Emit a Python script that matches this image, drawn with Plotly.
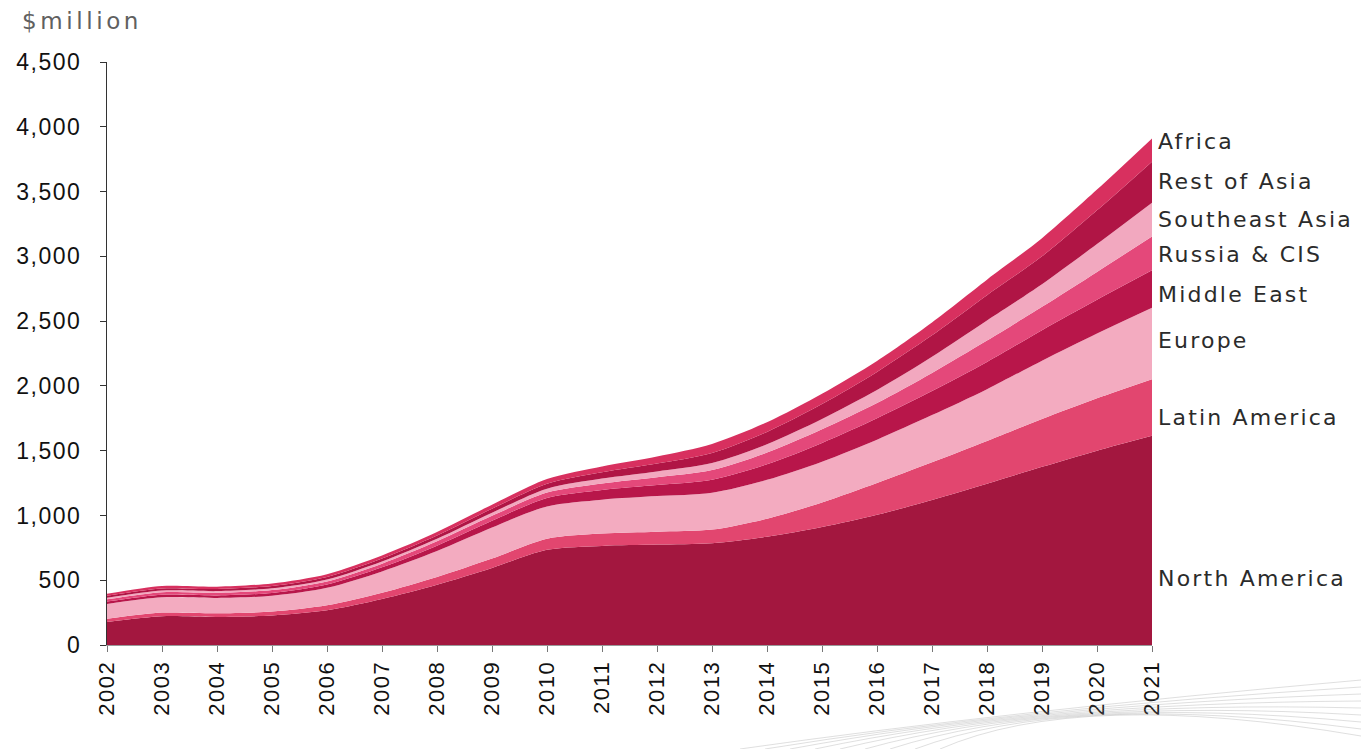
import plotly.graph_objects as go

years = list(range(2002, 2022))
series_names = ["North America", "Latin America", "Europe", "Middle East",
                "Russia & CIS", "Southeast Asia", "Rest of Asia", "Africa"]

north_america = [177, 222, 217, 228, 268, 355, 465, 595, 735, 765, 775, 786, 835, 910, 1005, 1120, 1245, 1375, 1500, 1615]
latin_america = [25, 28, 28, 30, 38, 48, 60, 72, 85, 95, 100, 105, 140, 190, 245, 290, 330, 370, 405, 437]
europe = [115, 118, 118, 122, 135, 165, 200, 240, 250, 262, 275, 285, 300, 315, 335, 365, 400, 450, 500, 552]
middle_east = [18, 20, 20, 22, 26, 32, 42, 52, 65, 75, 85, 100, 120, 145, 165, 185, 210, 235, 260, 288]
russia_cis = [18, 20, 20, 22, 24, 28, 33, 38, 42, 50, 60, 75, 90, 105, 118, 140, 165, 180, 215, 261]
southeast_asia = [12, 13, 13, 14, 15, 17, 20, 24, 30, 38, 45, 54, 65, 80, 100, 125, 155, 175, 215, 261]
rest_of_asia = [15, 16, 16, 17, 19, 22, 25, 30, 38, 48, 60, 77, 95, 115, 140, 165, 195, 215, 260, 317]
africa = [15, 18, 18, 20, 22, 24, 27, 32, 36, 45, 55, 70, 75, 80, 85, 100, 120, 140, 160, 179]

series_values = [north_america, latin_america, europe, middle_east,
                 russia_cis, southeast_asia, rest_of_asia, africa]
colors = ["#A3173F", "#E2466F", "#F3ABC0", "#B8164A",
          "#E4487A", "#F2A8BF", "#B01545", "#D8305F"]
label_y = [516, 1757, 2350, 2704, 3012, 3282, 3575, 3890]

y_ticks = list(range(0, 4501, 500))

fig = go.Figure()
for name, vals, col in zip(series_names, series_values, colors):
    fig.add_trace(go.Scatter(
        x=years, y=vals, name=name, mode="lines", stackgroup="one",
        line=dict(width=0, shape="spline", smoothing=0.8, color=col),
        fillcolor=col, hoverinfo="x+y+name"))

L, R, T, B = 107, 209, 62, 104
W, H = 1361, 749
pw, ph = W - L - R, H - T - B


def spaced(s, sp):
    return f'<span style="letter-spacing:{sp}px">{s}</span>'


annotations = []
for name, ly in zip(series_names, label_y):
    annotations.append(dict(
        x=1, xref="paper", y=ly, yref="y", xanchor="left", yanchor="middle",
        xshift=4, text=spaced(name, 2.2), showarrow=False,
        font=dict(family="DejaVu Sans", size=22, color="#2b2b2b")))
annotations.append(dict(
    x=(20 - L) / pw, xref="paper", y=(H - B - 21) / ph, yref="paper",
    xanchor="left", yanchor="middle", text=spaced("$million", 3.6), showarrow=False,
    font=dict(family="DejaVu Sans", size=23, color="#606060")))


def px(xp, yp):
    return (xp - L) / pw, (H - B - yp) / ph


shapes = []
for i in range(9):
    x0, y0 = px(740 + i * 25, 749)
    cx, cy = px(1000 + i * 10, 712 - i * 3)
    x1, y1 = px(1361, 680 + i * 7)
    shapes.append(dict(
        type="path", xref="paper", yref="paper",
        path=f"M {x0},{y0} Q {cx},{cy} {x1},{y1}",
        line=dict(color="rgba(150,150,150,0.3)", width=1)))

fig.update_layout(
    width=W, height=H,
    margin=dict(l=L, r=R, t=T, b=B, pad=0),
    plot_bgcolor="white", paper_bgcolor="white",
    showlegend=False,
    annotations=annotations,
    shapes=shapes,
    xaxis=dict(range=[2002, 2021], tickmode="array", tickvals=years,
               ticktext=[spaced(str(y), 1.5) for y in years], tickangle=-90,
               ticks="outside", ticklen=6, tickcolor="#777",
               showline=True, linecolor="#999", linewidth=1,
               showgrid=False, zeroline=False,
               tickfont=dict(family="Liberation Sans", size=22, color="#111")),
    yaxis=dict(range=[0, 4500], tickmode="array", tickvals=y_ticks,
               ticktext=[spaced(f"{v:,}", 1.5) for v in y_ticks],
               ticks="outside", ticklen=6, tickcolor="#333",
               ticklabelstandoff=14,
               showline=True, linecolor="#333", linewidth=1,
               showgrid=False, zeroline=False,
               tickfont=dict(family="Liberation Sans", size=23, color="#111")),
)

fig.write_html("out.html")
